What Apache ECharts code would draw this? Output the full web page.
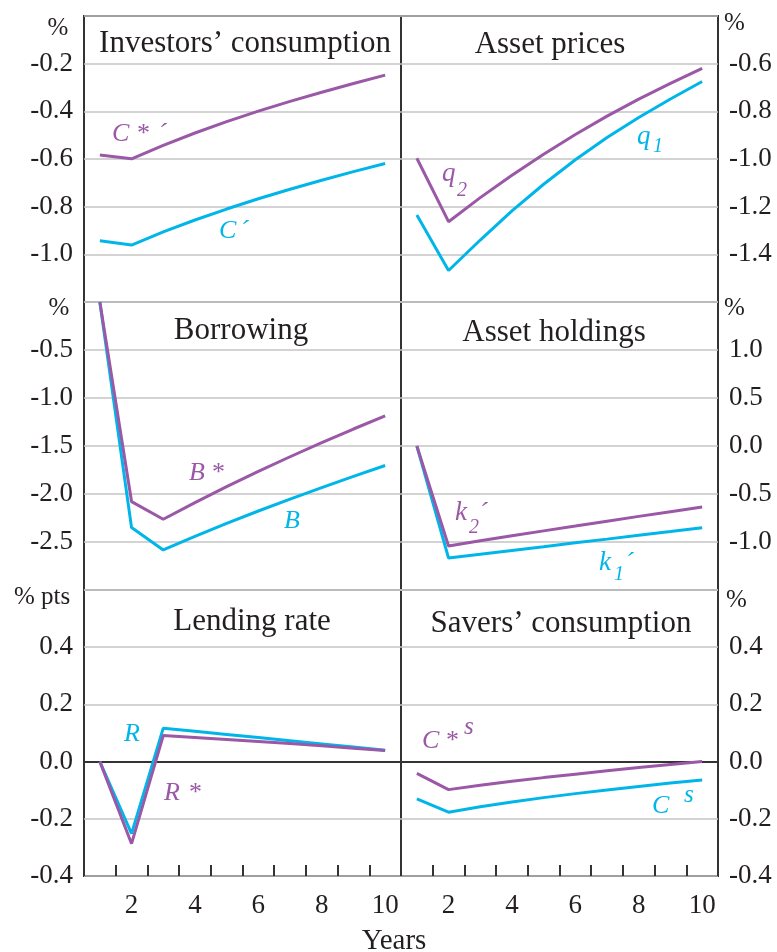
<!DOCTYPE html>
<html>
<head>
<meta charset="utf-8">
<script src="https://cdn.jsdelivr.net/npm/echarts@6/dist/echarts.min.js"></script>
<style>
  html, body { margin: 0; padding: 0; background: #fff; }
  #chart { width: 777px; height: 952px; }
</style>
</head>
<body>
<div id="chart"></div>
<script>
const years = ["1", "2", "3", "4", "5", "6", "7", "8", "9", "10"];

// Investors' consumption (%)
const investorsCStar = [-0.583, -0.599, -0.543, -0.491, -0.443, -0.399, -0.358, -0.320, -0.283, -0.248];
const investorsC = [-0.943, -0.961, -0.906, -0.856, -0.810, -0.767, -0.727, -0.689, -0.653, -0.619];
// Asset prices (%)
const pricesQ2 = [-0.997, -1.263, -1.162, -1.068, -0.980, -0.897, -0.820, -0.749, -0.683, -0.620];
const pricesQ1 = [-1.235, -1.468, -1.340, -1.218, -1.106, -1.003, -0.910, -0.826, -0.748, -0.675];
// Borrowing (%)
const borrowBStar = [0, -2.079, -2.263, -2.090, -1.924, -1.765, -1.612, -1.465, -1.323, -1.185];
const borrowB = [0, -2.350, -2.583, -2.441, -2.306, -2.177, -2.053, -1.933, -1.817, -1.703];
// Asset holdings (%)
const holdK2 = [0, -1.042, -0.988, -0.935, -0.884, -0.834, -0.783, -0.733, -0.684, -0.635];
const holdK1 = [0, -1.167, -1.128, -1.088, -1.049, -1.009, -0.970, -0.930, -0.891, -0.851];
// Lending rate (% pts)
const rateR = [0, -0.252, 0.117, 0.106, 0.095, 0.084, 0.073, 0.062, 0.051, 0.040];
const rateRStar = [0, -0.287, 0.091, 0.084, 0.077, 0.070, 0.063, 0.055, 0.047, 0.039];
// Savers' consumption (%)
const saversCStarS = [-0.041, -0.098, -0.083, -0.069, -0.056, -0.044, -0.032, -0.021, -0.010, 0.000];
const saversCS = [-0.130, -0.177, -0.158, -0.141, -0.126, -0.112, -0.099, -0.087, -0.075, -0.064];

// y ranges per panel: [min, max, interval]
const yRanges = [[-1.2, 0, 0.2], [-1.6, -0.4, 0.2], [-3, 0, 0.5], [-1.5, 1.5, 0.5], [-0.4, 0.6, 0.2], [-0.4, 0.6, 0.2]];
const titles = ["Investors’ consumption", "Asset prices", "Borrowing", "Asset holdings", "Lending rate", "Savers’ consumption"];

const PURPLE = "#9a58a6";
const CYAN = "#00b6e9";
const INK = "#231f20";
const SERIF = "'Liberation Serif', 'DejaVu Serif', serif";

const gridBoxes = [
  { left: 84, top: 16, width: 317, height: 286 },
  { left: 401, top: 16, width: 317, height: 286 },
  { left: 84, top: 302, width: 317, height: 288 },
  { left: 401, top: 302, width: 317, height: 288 },
  { left: 84, top: 590, width: 317, height: 286 },
  { left: 401, top: 590, width: 317, height: 286 },
];

const pairs = [
  [investorsC, investorsCStar],
  [pricesQ1, pricesQ2],
  [borrowB, borrowBStar],
  [holdK1, holdK2],
  [rateR, rateRStar],
  [saversCS, saversCStarS],
];

function fmt(v) {
  return Math.abs(v) < 1e-9 ? "0.0" : v.toFixed(1);
}

const grid = gridBoxes.map((b) => ({
  ...b, show: true, borderColor: "#333", borderWidth: 2, containLabel: false,
}));

const xAxis = gridBoxes.map((_, i) => {
  const bottom = i >= 4;
  return {
    type: "category", gridIndex: i, data: years, boundaryGap: true, position: "bottom",
    axisLine: { show: false, onZero: false },
    axisTick: { show: bottom, inside: true, length: 11, interval: 0, lineStyle: { color: "#333", width: 2 } },
    axisLabel: {
      show: bottom, margin: 16, interval: (idx) => idx % 2 === 1,
      fontFamily: SERIF, fontSize: 27, color: INK,
    },
    splitLine: { show: false },
  };
});

const yAxis = gridBoxes.map((_, i) => {
  const [min, max, interval] = yRanges[i];
  return {
    type: "value", gridIndex: i, min, max, interval,
    position: i % 2 === 0 ? "left" : "right",
    axisLine: { show: false, onZero: false },
    axisTick: { show: false },
    axisLabel: {
      margin: 11, fontFamily: SERIF, fontSize: 27, color: INK,
      showMaxLabel: false, showMinLabel: i >= 4, formatter: fmt,
    },
    splitLine: { show: true, lineStyle: { color: "#c4c4c4", width: 1.5 } },
  };
});

const series = [];
pairs.forEach(([cyanData, purpleData], i) => {
  const zero = i >= 4 ? {
    silent: true, symbol: "none", z: 1, label: { show: false },
    lineStyle: { color: "#333", width: 2, type: "solid" }, data: [{ yAxis: 0 }],
  } : undefined;
  series.push({
    type: "line", xAxisIndex: i, yAxisIndex: i, data: cyanData, showSymbol: false, symbol: "none",
    lineStyle: { color: CYAN, width: 3 }, itemStyle: { color: CYAN }, markLine: zero, z: 2,
  });
  series.push({
    type: "line", xAxisIndex: i, yAxisIndex: i, data: purpleData, showSymbol: false, symbol: "none",
    lineStyle: { color: PURPLE, width: 3 }, itemStyle: { color: PURPLE }, z: 3,
  });
});

function txt(x, y, text, opts = {}) {
  return {
    type: "text", x, y, silent: true, z: 100,
    style: {
      text, fill: opts.color || INK, align: opts.align || "left", verticalAlign: "middle",
      font: `${opts.italic ? "italic " : ""}${opts.size || 27}px ${SERIF}`,
    },
  };
}

const titleCenters = [[245, 44], [550, 45], [241, 331], [554, 333], [252, 622], [561, 624]];
const graphic = [
  ...titles.map((t, i) => txt(titleCenters[i][0], titleCenters[i][1], t, { align: "center", size: 31 })),
  // unit labels
  txt(58, 28, "%", { align: "center", size: 25 }),
  txt(59, 308, "%", { align: "center", size: 25 }),
  txt(42, 597, "% pts", { align: "center", size: 25 }),
  txt(724, 23, "%", { size: 25 }),
  txt(724, 308, "%", { size: 25 }),
  txt(726, 600, "%", { size: 25 }),
  txt(394, 941, "Years", { align: "center", size: 29 }),
  // series labels
  txt(112, 134, "C", { italic: true, color: PURPLE, size: 26 }),
  txt(137, 134, "*", { color: PURPLE, size: 26 }),
  txt(158, 134, "´", { italic: true, color: PURPLE, size: 26 }),
  txt(219, 231, "C", { italic: true, color: CYAN, size: 26 }),
  txt(240, 231, "´", { italic: true, color: CYAN, size: 26 }),
  txt(442, 174, "q", { italic: true, color: PURPLE, size: 27 }),
  txt(457, 191, "2", { italic: true, color: PURPLE, size: 20 }),
  txt(637, 137, "q", { italic: true, color: CYAN, size: 27 }),
  txt(653, 147, "1", { italic: true, color: CYAN, size: 20 }),
  txt(189, 473, "B", { italic: true, color: PURPLE, size: 26 }),
  txt(212, 473, "*", { color: PURPLE, size: 26 }),
  txt(284, 521, "B", { italic: true, color: CYAN, size: 26 }),
  txt(455, 513, "k", { italic: true, color: PURPLE, size: 27 }),
  txt(469, 528, "2", { italic: true, color: PURPLE, size: 20 }),
  txt(479, 513, "´", { italic: true, color: PURPLE, size: 26 }),
  txt(599, 563, "k", { italic: true, color: CYAN, size: 27 }),
  txt(614, 575, "1", { italic: true, color: CYAN, size: 20 }),
  txt(625, 563, "´", { italic: true, color: CYAN, size: 26 }),
  txt(124, 734, "R", { italic: true, color: CYAN, size: 26 }),
  txt(164, 793, "R", { italic: true, color: PURPLE, size: 26 }),
  txt(189, 793, "*", { color: PURPLE, size: 26 }),
  txt(422, 741, "C", { italic: true, color: PURPLE, size: 26 }),
  txt(446, 741, "*", { color: PURPLE, size: 26 }),
  txt(464, 727, "s", { italic: true, color: PURPLE, size: 25 }),
  txt(652, 806, "C", { italic: true, color: CYAN, size: 26 }),
  txt(684, 795, "s", { italic: true, color: CYAN, size: 25 }),
];

const chart = echarts.init(document.getElementById("chart"), null, { renderer: "canvas" });
chart.setOption({
  animation: false,
  backgroundColor: "#fff",
  grid, xAxis, yAxis, series, graphic,
});
</script>
</body>
</html>
